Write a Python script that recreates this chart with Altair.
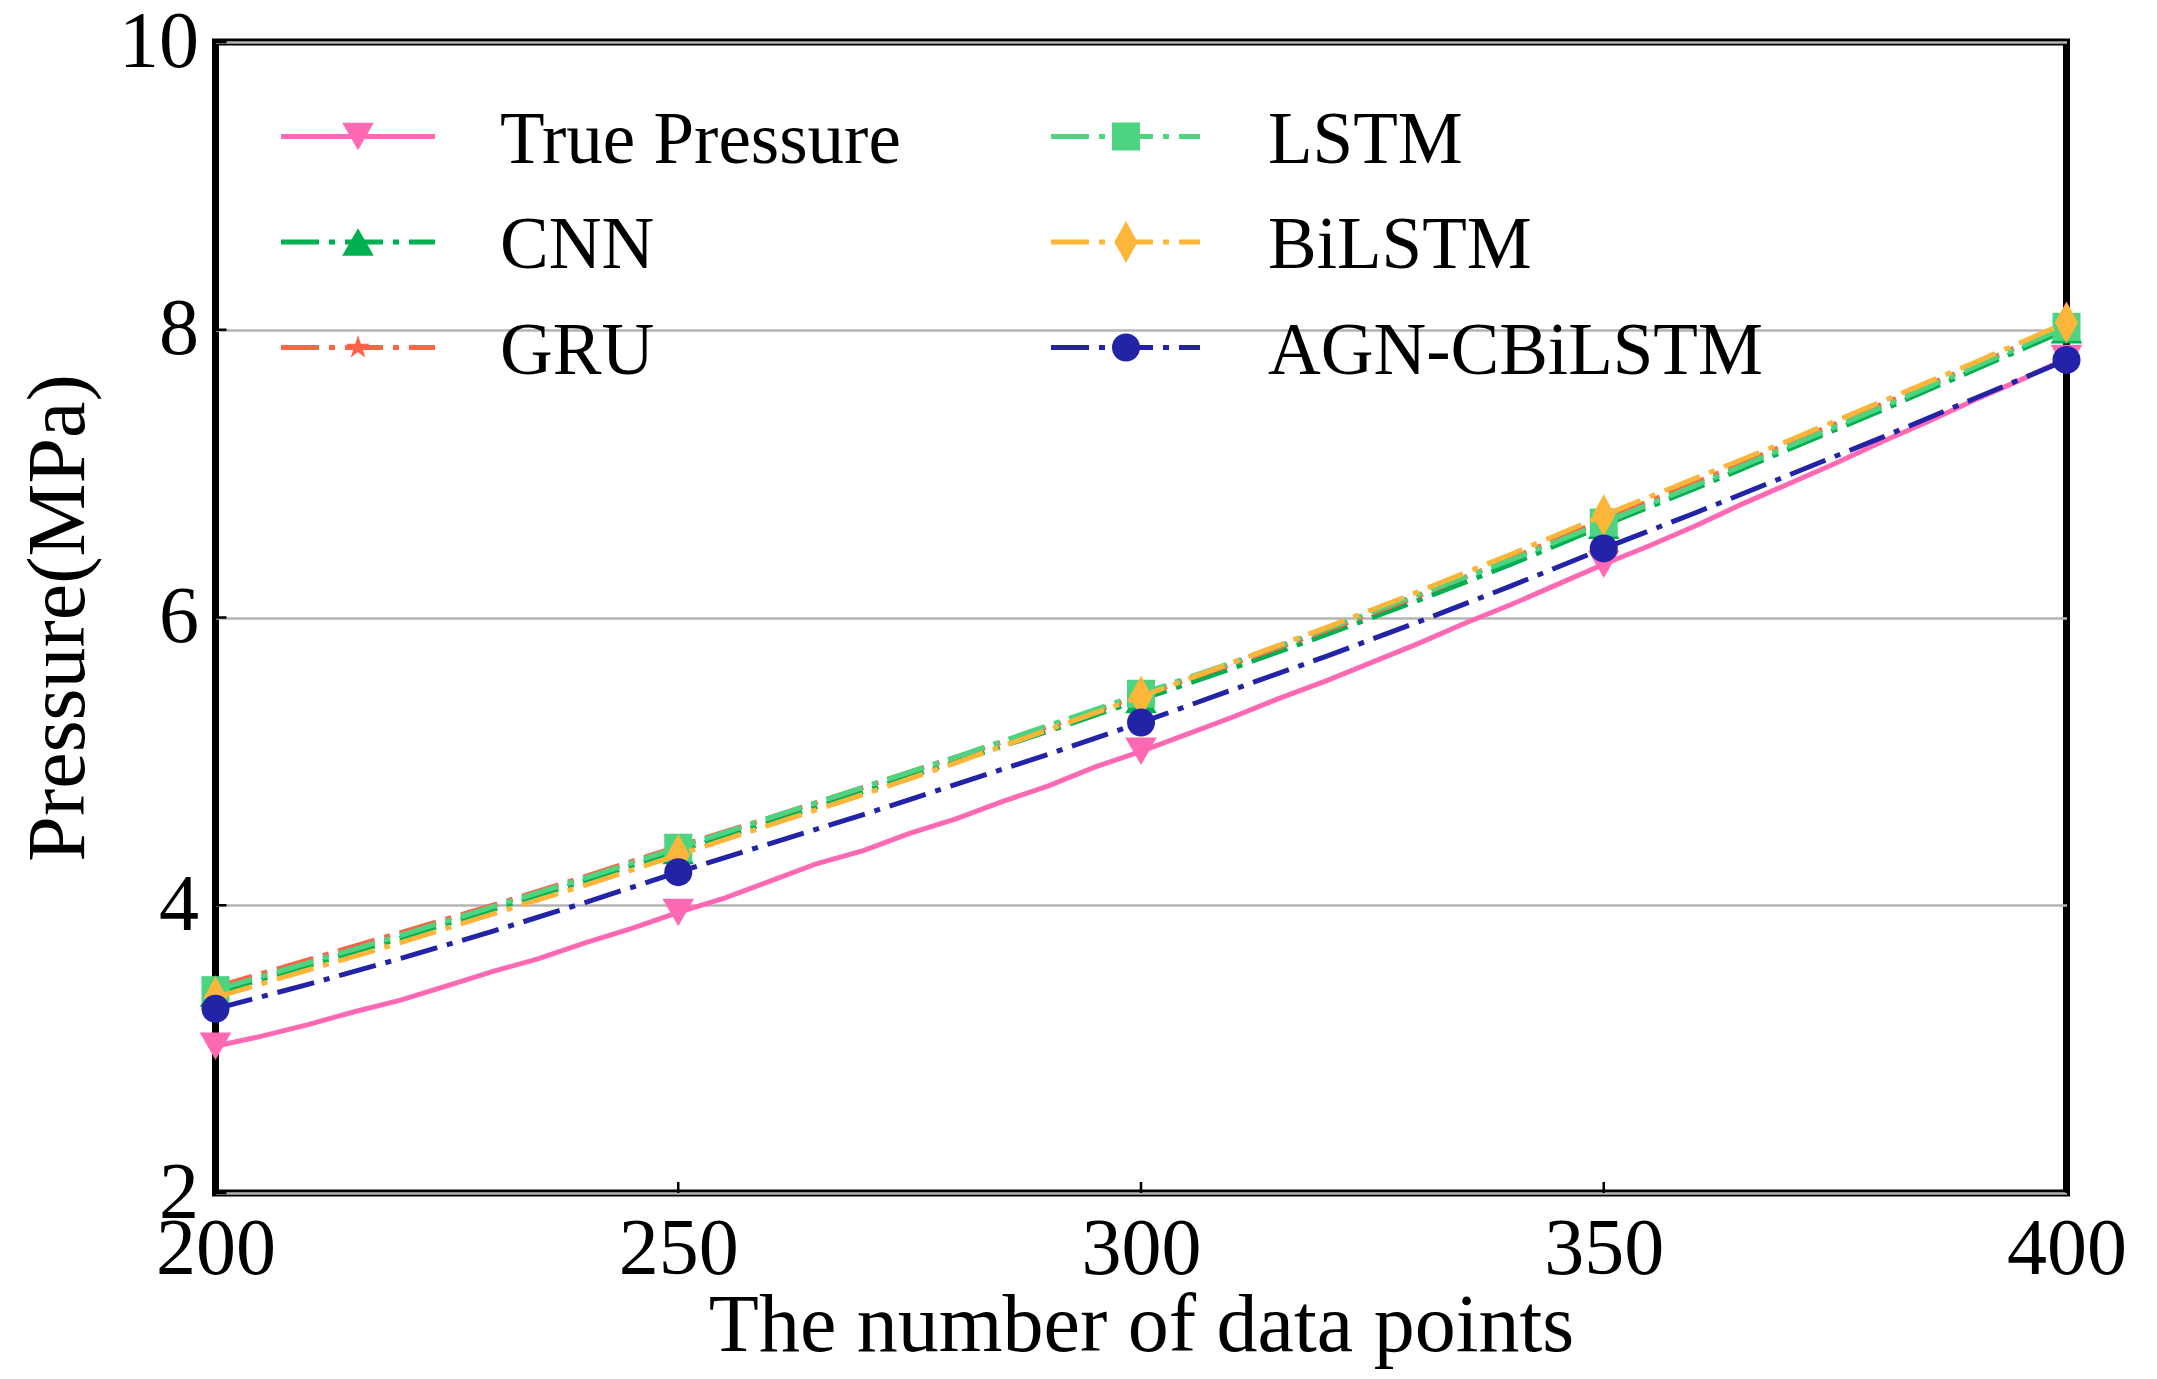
import altair as alt
import pandas as pd

# data
x_points = list(range(200, 401, 10))
x_true = list(range(200, 401, 5))

true_pressure = [3.02, 3.09, 3.17, 3.26, 3.34, 3.44, 3.54, 3.63, 3.74, 3.84,
                 3.95, 4.05, 4.17, 4.29, 4.38, 4.50, 4.60, 4.72, 4.83, 4.96,
                 5.07, 5.19, 5.31, 5.44, 5.56, 5.69, 5.82, 5.96, 6.09, 6.23,
                 6.37, 6.50, 6.64, 6.79, 6.93, 7.07, 7.22, 7.36, 7.51, 7.65, 7.80]
cnn = [3.39, 3.58, 3.77, 3.97, 4.17, 4.38, 4.58, 4.79, 5.00, 5.21, 5.43,
       5.65, 5.88, 6.12, 6.37, 6.64, 6.90, 7.17, 7.44, 7.72, 8.00]
gru = [3.43, 3.62, 3.81, 4.00, 4.20, 4.41, 4.61, 4.82, 5.03, 5.24, 5.46,
       5.68, 5.91, 6.15, 6.41, 6.68, 6.94, 7.21, 7.48, 7.75, 8.03]
lstm = [3.41, 3.60, 3.79, 3.99, 4.19, 4.40, 4.61, 4.82, 5.03, 5.25, 5.47,
        5.69, 5.92, 6.16, 6.40, 6.66, 6.92, 7.19, 7.46, 7.74, 8.02]
bilstm = [3.36, 3.55, 3.74, 3.94, 4.14, 4.35, 4.56, 4.77, 4.99, 5.22, 5.45,
          5.69, 5.93, 6.18, 6.44, 6.71, 6.97, 7.23, 7.50, 7.77, 8.05]
agn_cbilstm = [3.28, 3.45, 3.63, 3.82, 4.02, 4.23, 4.43, 4.63, 4.84, 5.05, 5.27,
               5.50, 5.73, 5.97, 6.22, 6.48, 6.73, 6.99, 7.25, 7.52, 7.79]

x_ticks = [200, 250, 300, 350, 400]
y_ticks = [2, 4, 6, 8, 10]

W, H = 1851, 1151
FONT = "Liberation Serif"
STAR = ("M0,-1L0.225,-0.309L0.951,-0.309L0.363,0.118L0.588,0.809L0,0.382"
        "L-0.588,0.809L-0.363,0.118L-0.951,-0.309L-0.225,-0.309Z")
THIN_DIAMOND = "M0,-1L0.55,0L0,1L-0.55,0Z"
DASHDOT = [38, 10, 6, 10]
LW = 5

series = [
    ("True Pressure", x_true, true_pressure, "#FF69B4", None, "triangle-down", 1000),
    ("CNN", x_points, cnn, "#00B050", DASHDOT, "triangle-up", 1000),
    ("GRU", x_points, gru, "#FF6347", DASHDOT, STAR, 625),
    ("LSTM", x_points, lstm, "#4CD480", DASHDOT, "square", 784),
    ("BiLSTM", x_points, bilstm, "#FDB53A", DASHDOT, THIN_DIAMOND, 1764),
    ("AGN-CBiLSTM", x_points, agn_cbilstm, "#2323A8", DASHDOT, "circle", 784),
]

x_scale = alt.Scale(domain=[200, 400], nice=False, zero=False)
y_scale = alt.Scale(domain=[2, 10], nice=False, zero=False)

x_enc = alt.X("x:Q", scale=x_scale, title="The number of data points",
              axis=alt.Axis(values=x_ticks, format="d", grid=False,
                            labelPadding=80, labelBaseline="alphabetic",
                            labelFlush=False, labelOverlap=False,
                            titleX=W / 2, titleY=157, titleAlign="center",
                            titleBaseline="alphabetic"))
y_enc = alt.Y("y:Q", scale=y_scale, title="Pressure(MPa)",
              axis=alt.Axis(values=y_ticks, grid=True, labelPadding=17,
                            labelBaseline="middle", labelFlush=False,
                            labelOverlap=False, titleAngle=270,
                            titleX=-132, titleY=H / 2, titleAlign="center",
                            titleBaseline="alphabetic"))

layers = []
for name, xs, ys, color, dash, shape, size in series:
    df = pd.DataFrame({"x": xs, "y": ys})
    line_kw = dict(color=color, strokeWidth=LW)
    if dash:
        line_kw["strokeDash"] = dash
    layers.append(alt.Chart(df).mark_line(**line_kw).encode(x=x_enc, y=y_enc))
    layers.append(
        alt.Chart(df).mark_point(shape=shape, size=size, filled=True,
                                 color=color, opacity=1)
        .transform_filter("datum.x % 50 == 0")
        .encode(x=x_enc, y=y_enc)
    )

# inward ticks
layers.append(
    alt.Chart(pd.DataFrame({"x": x_ticks})).mark_rule(color="black", strokeWidth=2.5)
    .encode(x=x_enc, y=alt.value(H - 11), y2=alt.value(H))
)
layers.append(
    alt.Chart(pd.DataFrame({"y": y_ticks})).mark_rule(color="black", strokeWidth=2.5)
    .encode(y=y_enc, x=alt.value(0), x2=alt.value(11))
)

# legend, two columns inside the plot
cols = [(65.5, 219.5, 142.5, 284.5), (835.5, 984.5, 910.5, 1052.5)]
rows = [94.5, 200, 305.5]
for i, (name, xs, ys, color, dash, shape, size) in enumerate(series):
    x0, x1, mx, tx = cols[i // 3]
    ly = rows[i % 3]
    one = alt.Data(values=[{}])
    line_kw = dict(color=color, strokeWidth=LW)
    if dash:
        line_kw["strokeDash"] = dash
    layers.append(alt.Chart(one).mark_rule(**line_kw).encode(
        x=alt.value(x0), x2=alt.value(x1), y=alt.value(ly)))
    layers.append(alt.Chart(one).mark_point(shape=shape, size=size, filled=True,
                                            color=color, opacity=1).encode(
        x=alt.value(mx), y=alt.value(ly)))
    layers.append(alt.Chart(one).mark_text(text=name, font=FONT, fontSize=73,
                                           align="left", baseline="alphabetic",
                                           color="black").encode(
        x=alt.value(tx), y=alt.value(ly + 26)))

chart = alt.layer(*layers).properties(
    width=W,
    height=H,
    padding={"left": 207.5, "top": 34, "right": 65, "bottom": 176.5},
    autosize=alt.AutoSizeParams(type="none"),
    background="white",
).configure_view(
    stroke="black", strokeWidth=7
).configure_axis(
    domain=False, ticks=False, tickSize=0,
    labelFont=FONT, labelFontSize=80, labelColor="black",
    titleFont=FONT, titleFontSize=82, titleColor="black", titleFontWeight="normal",
    gridColor="#b4b4b4", gridWidth=2.5,
)

chart.save("out.html", embed_options={"renderer": "svg", "actions": False})
